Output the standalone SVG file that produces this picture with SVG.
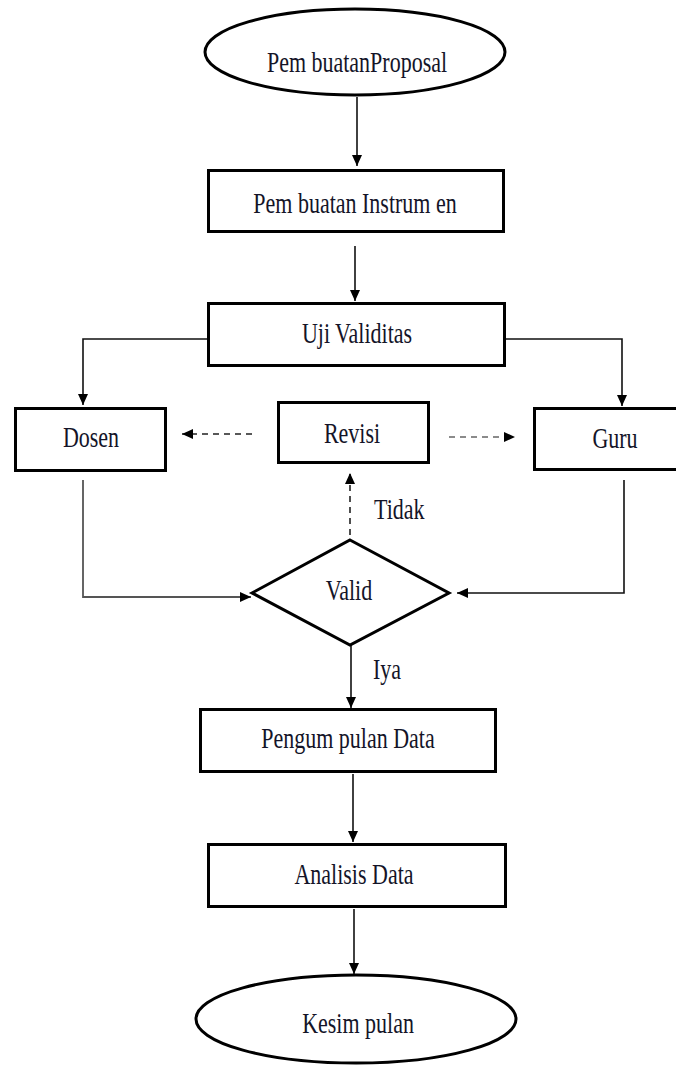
<svg xmlns="http://www.w3.org/2000/svg" width="676" height="1066" viewBox="0 0 676 1066">
<style>
  .shape { fill: #fff; stroke: #000; stroke-width: 3; }
  .lbl { font-family: "Liberation Serif", "Times New Roman", serif; font-size: 22px; fill: #141428; text-anchor: middle; }
  .lbl-start { text-anchor: start; }
  .conn { fill: none; stroke: #111; stroke-width: 1.6; }
  .conn-grey { stroke: #555; stroke-width: 1.8; }
  .dash { stroke-dasharray: 6 5; stroke: #222; }
  .dash-light { stroke: #666; }
</style>
<defs>
  <marker id="arrow" markerUnits="userSpaceOnUse" markerWidth="12" markerHeight="10" refX="11" refY="5" orient="auto">
    <path d="M0,0 L11,5 L0,10 z" fill="#000"/>
  </marker>
</defs>

<g id="connectors">
  <path class="conn" d="M357,97 L357,166" marker-end="url(#arrow)"/>
  <path class="conn" d="M355,246 L355,301" marker-end="url(#arrow)"/>
  <path class="conn" d="M207,339 L83,339 L83,405" marker-end="url(#arrow)"/>
  <path class="conn" d="M506,339 L622,339 L622,406" marker-end="url(#arrow)"/>
  <path class="conn dash" d="M252,434 L182,434" marker-end="url(#arrow)"/>
  <path class="conn dash dash-light" d="M449,437 L515,437" marker-end="url(#arrow)"/>
  <path class="conn conn-grey" d="M83,480 L83,597 L251,597" marker-end="url(#arrow)"/>
  <path class="conn" d="M624,480 L624,593 L457,593" marker-end="url(#arrow)"/>
  <path class="conn dash" d="M350,535 L350,473" marker-end="url(#arrow)"/>
  <path class="conn" d="M351,645 L351,708" marker-end="url(#arrow)"/>
  <path class="conn" d="M353,774 L353,842" marker-end="url(#arrow)"/>
  <path class="conn" d="M354,909 L354,974" marker-end="url(#arrow)"/>
</g>

<g id="node-proposal">
  <ellipse class="shape" cx="355" cy="52" rx="150" ry="43"/>
  <text class="lbl" transform="translate(357,72) scale(1,1.3)">Pem buatanProposal</text>
</g>
<g id="node-instrumen">
  <rect class="shape" x="208.5" y="170.5" width="295" height="61"/>
  <text class="lbl" transform="translate(355,213) scale(1,1.3)">Pem buatan Instrum en</text>
</g>
<g id="node-uji">
  <rect class="shape" x="208.5" y="303.5" width="296" height="62"/>
  <text class="lbl" transform="translate(357,343) scale(1,1.3)">Uji Validitas</text>
</g>
<g id="node-dosen">
  <rect class="shape" x="15.5" y="408.5" width="150" height="62"/>
  <text class="lbl" transform="translate(91,447) scale(1,1.3)">Dosen</text>
</g>
<g id="node-revisi">
  <rect class="shape" x="278.5" y="402.5" width="150" height="60"/>
  <text class="lbl" transform="translate(352,443) scale(1,1.3)">Revisi</text>
</g>
<g id="node-guru">
  <rect class="shape" x="534.5" y="408.5" width="160" height="61"/>
  <text class="lbl" transform="translate(615,448) scale(1,1.3)">Guru</text>
</g>
<g id="node-valid">
  <polygon class="shape" points="350,540 449,593 350,645 252,593"/>
  <text class="lbl" transform="translate(349,600) scale(1,1.3)">Valid</text>
</g>
<g id="label-tidak">
  <text class="lbl lbl-start" transform="translate(374,519) scale(1,1.3)">Tidak</text>
</g>
<g id="label-iya">
  <text class="lbl lbl-start" transform="translate(373,679) scale(1,1.3)">Iya</text>
</g>
<g id="node-pengumpulan">
  <rect class="shape" x="200.5" y="709.5" width="295" height="62"/>
  <text class="lbl" transform="translate(348,748) scale(1,1.3)">Pengum pulan Data</text>
</g>
<g id="node-analisis">
  <rect class="shape" x="208.5" y="844.5" width="297" height="62"/>
  <text class="lbl" transform="translate(354,884) scale(1,1.3)">Analisis Data</text>
</g>
<g id="node-kesimpulan">
  <ellipse class="shape" cx="356" cy="1019" rx="160" ry="44"/>
  <text class="lbl" transform="translate(358,1033) scale(1,1.3)">Kesim pulan</text>
</g>
</svg>
